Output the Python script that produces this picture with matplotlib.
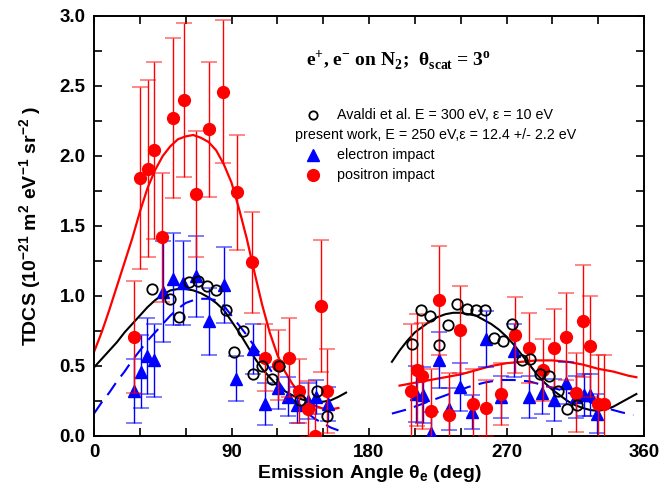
import matplotlib
matplotlib.use("Agg")
import matplotlib.pyplot as plt
from matplotlib.ticker import MultipleLocator

# ---- data ----
# positron impact (red filled circles)
pos_x = [26.4, 30.3, 35.1, 39.4, 44.3, 51.5, 58.7, 66.5, 75.3, 84.6, 93.6, 103.4,
         111.9, 120.6, 127.6, 134.1, 139.9, 144.7, 148.7, 152.5,
         207.5, 211.2, 215.0, 220.6, 226.0, 232.5, 239.6, 247.8, 256.5, 266.1,
         275.3, 284.7, 293.6, 301.1, 308.7, 315.3, 320.3, 324.6, 330.0, 334.0]
pos_y = [0.71, 1.84, 1.91, 2.04, 1.42, 2.27, 2.40, 1.73, 2.19, 2.46, 1.74, 1.24,
         0.56, 0.51, 0.56, 0.32, 0.19, 0.00, 0.93, 0.32,
         0.32, 0.47, 0.43, 0.18, 0.97, 0.15, 0.76, 0.23, 0.20, 0.30,
         0.72, 0.63, 0.47, 0.63, 0.71, 0.31, 0.82, 0.64, 0.23, 0.23]
pos_err = [0.40, 0.65, 0.63, 0.63, 0.46, 0.57, 0.55, 0.45, 0.48, 0.51, 0.41, 0.36,
           0.24, 0.25, 0.28, 0.23, 0.20, 0.20, 0.47, 0.30,
           0.48, 0.40, 0.38, 0.30, 0.39, 0.30, 0.31, 0.25, 0.20, 0.22,
           0.27, 0.25, 0.22, 0.28, 0.31, 0.28, 0.40, 0.36, 0.35, 0.35]

# electron impact (blue triangles)
ele_x = [26.2, 30.5, 34.9, 39.4, 45.0, 51.5, 58.4, 66.5, 75.5, 85.1, 93.0, 104.2,
         111.9, 120.5, 127.2, 132.6, 140.3, 145.3, 152.9,
         210.8, 215.6, 220.4, 226.0, 232.5, 239.6, 247.2, 256.5, 266.1, 274.8,
         284.7, 293.4, 301.1, 308.7, 315.5, 320.7, 324.6, 329.4]
ele_y = [0.32, 0.46, 0.57, 0.54, 1.03, 1.12, 1.09, 1.14, 0.82, 1.08, 0.41, 0.62,
         0.23, 0.34, 0.28, 0.22, 0.25, 0.28, 0.23,
         0.30, 0.29, 0.02, 0.54, 0.19, 0.35, 0.17, 0.69, 0.28, 0.61,
         0.28, 0.31, 0.26, 0.38, 0.28, 0.29, 0.29, 0.16]
ele_err = [0.23, 0.26, 0.27, 0.26, 0.36, 0.33, 0.30, 0.29, 0.24, 0.27, 0.16, 0.18,
           0.15, 0.15, 0.14, 0.13, 0.13, 0.12, 0.12,
           0.20, 0.20, 0.15, 0.20, 0.15, 0.17, 0.12, 0.20, 0.15, 0.19,
           0.15, 0.15, 0.15, 0.15, 0.15, 0.15, 0.15, 0.14]

# Avaldi et al. (open circles)
ava_x = [37.8, 50.0, 55.7, 62.4, 68.2, 74.2, 79.9, 86.4, 91.8, 97.8, 104.2, 109.7,
         116.3, 121.3, 134.8, 145.7, 152.2,
         207.9, 213.8, 219.9, 226.0, 231.9, 237.8, 243.9, 249.8, 255.9, 261.7,
         267.9, 273.8, 279.9, 285.7, 291.9, 298.0, 303.8, 309.3, 315.9]
ava_y = [1.05, 0.98, 0.85, 1.10, 1.11, 1.07, 1.04, 0.90, 0.60, 0.75, 0.44, 0.50,
         0.41, 0.50, 0.26, 0.32, 0.14,
         0.66, 0.90, 0.86, 0.65, 0.79, 0.94, 0.91, 0.90, 0.90, 0.70,
         0.68, 0.80, 0.54, 0.55, 0.44, 0.43, 0.32, 0.19, 0.22]

# theory curves, left and right branches
red_lx = [0, 5, 10, 15, 20, 25, 30, 35, 40, 45, 50, 55, 60, 65, 70, 75, 80, 85, 90,
          95, 100, 105, 110, 115, 120, 125, 130, 135, 140, 145, 150, 155, 160]
red_ly = [0.60, 0.74, 0.90, 1.07, 1.24, 1.41, 1.60, 1.77, 1.90, 2.00, 2.07, 2.12,
          2.14, 2.15, 2.13, 2.10, 2.04, 1.94, 1.81, 1.62, 1.41, 1.17, 0.94, 0.74,
          0.58, 0.46, 0.37, 0.30, 0.25, 0.215, 0.195, 0.19, 0.20]
red_rx = [200, 210, 220, 230, 240, 250, 260, 270, 280, 290, 300, 310, 320, 330,
          340, 350, 355]
red_ry = [0.36, 0.38, 0.40, 0.42, 0.44, 0.47, 0.50, 0.52, 0.53, 0.54, 0.54, 0.53,
          0.51, 0.48, 0.46, 0.43, 0.42]

blk_lx = [0, 5, 10, 15, 20, 25, 30, 35, 40, 45, 50, 55, 60, 65, 70, 75, 80, 85, 90,
          95, 100, 105, 110, 115, 120, 125, 130, 135, 140, 145, 150, 155, 160, 165]
blk_ly = [0.49, 0.55, 0.61, 0.67, 0.74, 0.80, 0.86, 0.92, 0.97, 1.01, 1.04, 1.05,
          1.05, 1.04, 1.02, 0.99, 0.95, 0.90, 0.82, 0.74, 0.65, 0.56, 0.48, 0.42,
          0.36, 0.32, 0.29, 0.265, 0.25, 0.245, 0.245, 0.255, 0.28, 0.31]
blk_rx = [195, 200, 205, 210, 215, 220, 225, 230, 235, 240, 245, 250, 255, 260,
          265, 270, 275, 280, 285, 290, 295, 300, 305, 310, 315, 320, 325, 330,
          335, 340, 345, 350, 355]
blk_ry = [0.53, 0.61, 0.68, 0.74, 0.78, 0.82, 0.85, 0.87, 0.88, 0.88, 0.87, 0.86,
          0.83, 0.80, 0.76, 0.71, 0.65, 0.58, 0.51, 0.44, 0.38, 0.33, 0.29, 0.25,
          0.22, 0.20, 0.185, 0.18, 0.19, 0.21, 0.24, 0.27, 0.30]

blu_lx = [0, 5, 10, 15, 20, 25, 30, 35, 40, 45, 50, 55, 60, 65, 70, 75, 80, 85, 90,
          95, 100, 105, 110, 115, 120, 125, 130, 135, 140, 145, 150, 155, 160]
blu_ly = [0.16, 0.24, 0.31, 0.39, 0.46, 0.54, 0.61, 0.68, 0.74, 0.80, 0.86, 0.91,
          0.95, 0.97, 0.98, 0.98, 0.97, 0.93, 0.86, 0.79, 0.72, 0.64, 0.57, 0.48,
          0.40, 0.32, 0.26, 0.21, 0.16, 0.12, 0.09, 0.06, 0.04]
blu_rx = [195, 205, 215, 225, 235, 245, 255, 265, 275, 285, 295, 305, 315, 325,
          335, 345, 353]
blu_ry = [0.16, 0.19, 0.23, 0.27, 0.31, 0.35, 0.38, 0.40, 0.40, 0.39, 0.36, 0.33,
          0.29, 0.24, 0.20, 0.17, 0.15]

plt.rcParams['font.family'] = ['Liberation Sans', 'DejaVu Sans']

fig = plt.figure(figsize=(6.61, 4.96), dpi=100)
ax = fig.add_axes([94 / 661, 60 / 496, 550 / 661, 420 / 496])

# curves
ax.plot(red_lx, red_ly, color='red', lw=1.6, zorder=2)
ax.plot(red_rx, red_ry, color='red', lw=1.6, zorder=2)
ax.plot(blk_lx, blk_ly, color='black', lw=1.5, zorder=2)
ax.plot(blk_rx, blk_ry, color='black', lw=1.5, zorder=2)
ax.plot(blu_lx, blu_ly, color='blue', lw=1.5, dashes=(7, 4), zorder=2)
ax.plot(blu_rx, blu_ry, color='blue', lw=1.5, dashes=(7, 4), zorder=2)

# data with error bars
eb = ax.errorbar(ele_x, ele_y, yerr=ele_err, fmt='^', color='blue', ms=8.5,
                 ecolor='blue', elinewidth=1, capsize=6, capthick=1.2, zorder=3)
for c in eb[1]:
    c.set_alpha(0.6)
pb = ax.errorbar(pos_x, pos_y, yerr=pos_err, fmt='o', color='red', ms=8.5,
                 ecolor='red', elinewidth=1, capsize=6, capthick=1.2, zorder=4)
for c in pb[1]:
    c.set_alpha(0.55)
ax.plot(ava_x, ava_y, 'o', mfc='none', mec='black', mew=1.3, ms=7.5, zorder=5)

# title-like annotation
ax.text(0.385, 0.895,
        r'e$^{\mathregular{+}}$, e$^{\mathregular{-}}$ on N$_{\mathregular{2}}$;  '
        r'θ$_{\mathregular{scat}}$ = 3$^{\mathregular{o}}$',
        transform=ax.transAxes, family='Liberation Serif', weight='bold',
        fontsize=14, ha='left', va='center')

# hand-made legend
lx, tx = 0.399, 0.441
ax.plot([lx], [0.765], 'o', mfc='none', mec='black', mew=1.3, ms=6,
        transform=ax.transAxes, clip_on=False)
ax.text(tx, 0.765, 'Avaldi et al. E = 300 eV, ε = 10 eV', transform=ax.transAxes,
        fontsize=10.3, va='center')
ax.text(0.365, 0.717, 'present work, E = 250 eV,ε = 12.4 +/- 2.2 eV',
        transform=ax.transAxes, fontsize=10.3, va='center')
ax.plot([lx], [0.670], '^', color='blue', ms=8, transform=ax.transAxes,
        clip_on=False)
ax.text(tx, 0.670, 'electron impact', transform=ax.transAxes, fontsize=10.3,
        va='center')
ax.plot([lx], [0.621], 'o', color='red', ms=8.5, transform=ax.transAxes,
        clip_on=False)
ax.text(tx, 0.621, 'positron impact', transform=ax.transAxes, fontsize=10.3,
        va='center')

# axes
ax.set_xlim(0, 360)
ax.set_ylim(0, 3.0)
ax.xaxis.set_major_locator(MultipleLocator(90))
ax.xaxis.set_minor_locator(MultipleLocator(30))
ax.yaxis.set_major_locator(MultipleLocator(0.5))
ax.yaxis.set_minor_locator(MultipleLocator(0.25))
ax.yaxis.set_major_formatter(matplotlib.ticker.FormatStrFormatter('%.1f'))
ax.tick_params(which='both', direction='in', top=True, right=True, width=1.2)
ax.tick_params(which='major', length=6, labelsize=13.5, pad=6)
ax.tick_params(which='minor', length=6)
for lab in ax.get_xticklabels() + ax.get_yticklabels():
    lab.set_fontweight('bold')
for s in ax.spines.values():
    s.set_linewidth(1.4)

ax.set_xlabel(r'Emission Angle θ$_{\mathregular{e}}$ (deg)', fontsize=14,
              fontweight='bold', labelpad=1)
ax.set_ylabel(r'TDCS (10$^{\mathregular{-21}}$ m$^{\mathregular{2}}$ '
              r'eV$^{\mathregular{-1}}$ sr$^{\mathregular{-2}}$ )', fontsize=14,
              fontweight='bold', labelpad=11)

fig.savefig('out.png', dpi=100)
